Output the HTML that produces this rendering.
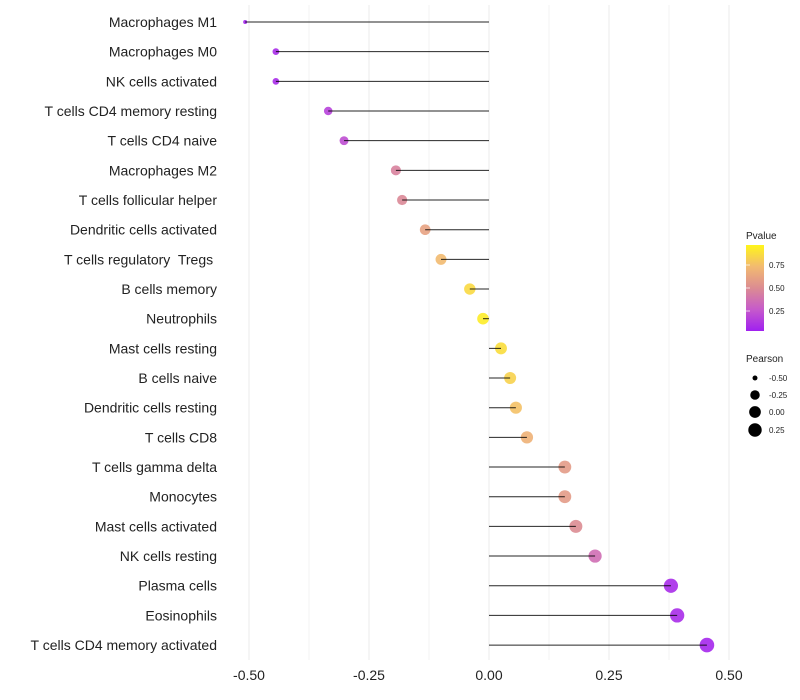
<!DOCTYPE html>
<html><head><meta charset="utf-8"><style>
body{margin:0;background:#fff;font-family:"Liberation Sans",sans-serif}
svg{display:block}
svg text{white-space:pre}
</style></head><body>
<svg id="chart" width="800" height="700">
<defs><linearGradient id="pg" x1="0" y1="1" x2="0" y2="0">
<stop offset="0" stop-color="#A020F0"/><stop offset="0.25" stop-color="#C65ACB"/><stop offset="0.5" stop-color="#DC8C92"/><stop offset="0.75" stop-color="#F2BA70"/><stop offset="1" stop-color="#FFF51A"/></linearGradient></defs>
</svg>
<script>
const categories=["Macrophages M1","Macrophages M0","NK cells activated","T cells CD4 memory resting","T cells CD4 naive","Macrophages M2","T cells follicular helper","Dendritic cells activated","T cells regulatory  Tregs ","B cells memory","Neutrophils","Mast cells resting","B cells naive","Dendritic cells resting","T cells CD8","T cells gamma delta","Monocytes","Mast cells activated","NK cells resting","Plasma cells","Eosinophils","T cells CD4 memory activated"];
const pearson=[-0.508,-0.444,-0.444,-0.335,-0.302,-0.194,-0.181,-0.133,-0.100,-0.040,-0.0125,0.025,0.044,0.056,0.079,0.158,0.158,0.181,0.221,0.379,0.392,0.454];
const pvalue=[0.02,0.05,0.05,0.15,0.2,0.45,0.48,0.62,0.75,0.88,0.96,0.9,0.85,0.78,0.7,0.58,0.58,0.5,0.35,0.05,0.05,0.03];
const xTicks=[-0.5,-0.25,0,0.25,0.5];
const xTickLabels=["-0.50","-0.25","0.00","0.25","0.50"];
const NS="http://www.w3.org/2000/svg";
const svg=document.getElementById('chart');
const x=v=>489+v*480;
const y=i=>22+i*29.67;
const r=v=>2+5.3*Math.sqrt(Math.max(0,(v+0.508)/0.96));
const stops=[[0,[160,32,240]],[0.25,[198,90,203]],[0.5,[220,140,146]],[0.75,[242,186,112]],[1,[255,245,26]]];
function col(p){for(let i=1;i<stops.length;i++){if(p<=stops[i][0]){const a=stops[i-1],b=stops[i],t=(p-a[0])/(b[0]-a[0]);return 'rgb('+a[1].map((c,k)=>Math.round(c+(b[1][k]-c)*t)).join(',')+')';}}return 'rgb(255,245,26)';}
function mk(tag,attrs,txt){const e=document.createElementNS(NS,tag);for(const k in attrs)e.setAttribute(k,attrs[k]);if(txt!==undefined)e.textContent=txt;svg.appendChild(e);return e;}
for(let v=-0.5;v<=0.5001;v+=0.125){const g=mk('line',{x1:x(v),x2:x(v),y1:5,y2:660,stroke:'#ebebeb','stroke-width':Math.abs(v*4-Math.round(v*4))<0.01?1:0.6});

}
xTicks.forEach((v,i)=>{const t=mk('text',{x:x(v),y:680,'text-anchor':'middle','font-size':14,fill:'#222'},xTickLabels[i]);

});
categories.forEach((c,i)=>{const yy=y(i);
const t=mk('text',{x:217,y:yy+5,'text-anchor':'end','font-size':14,fill:'#222'},c);


const d=mk('circle',{cx:x(pearson[i]),cy:yy,r:r(pearson[i]),fill:col(pvalue[i]),'fill-opacity':0.9});


const l=mk('line',{x1:x(0),x2:x(pearson[i]),y1:yy,y2:yy,stroke:'#000','stroke-width':1,'stroke-opacity':0.85});

});
let e=mk('text',{x:746,y:239,'font-size':10,fill:'#222'},'Pvalue');


e=mk('rect',{x:746,y:245,width:18,height:86,fill:'url(#pg)'});


[[0.75,'0.75'],[0.5,'0.50'],[0.25,'0.25']].forEach(([v,s])=>{const yy=334-v*92;
const tk=mk('line',{x1:746,x2:750,y1:yy,y2:yy,stroke:'#fff','stroke-width':1,opacity:0.7});


const tt=mk('text',{x:769,y:yy+3,'font-size':8,fill:'#222'},s);

});
e=mk('text',{x:746,y:362,'font-size':10,fill:'#222'},'Pearson');


[[-0.5,'-0.50',378],[-0.25,'-0.25',395],[0,'0.00',412],[0.25,'0.25',430]].forEach(([v,s,yy])=>{
const c=mk('circle',{cx:755,cy:yy,r:r(v),fill:'#000'});


const tt=mk('text',{x:769,y:yy+3,'font-size':8,fill:'#222'},s);

});
</script>
</body></html>
